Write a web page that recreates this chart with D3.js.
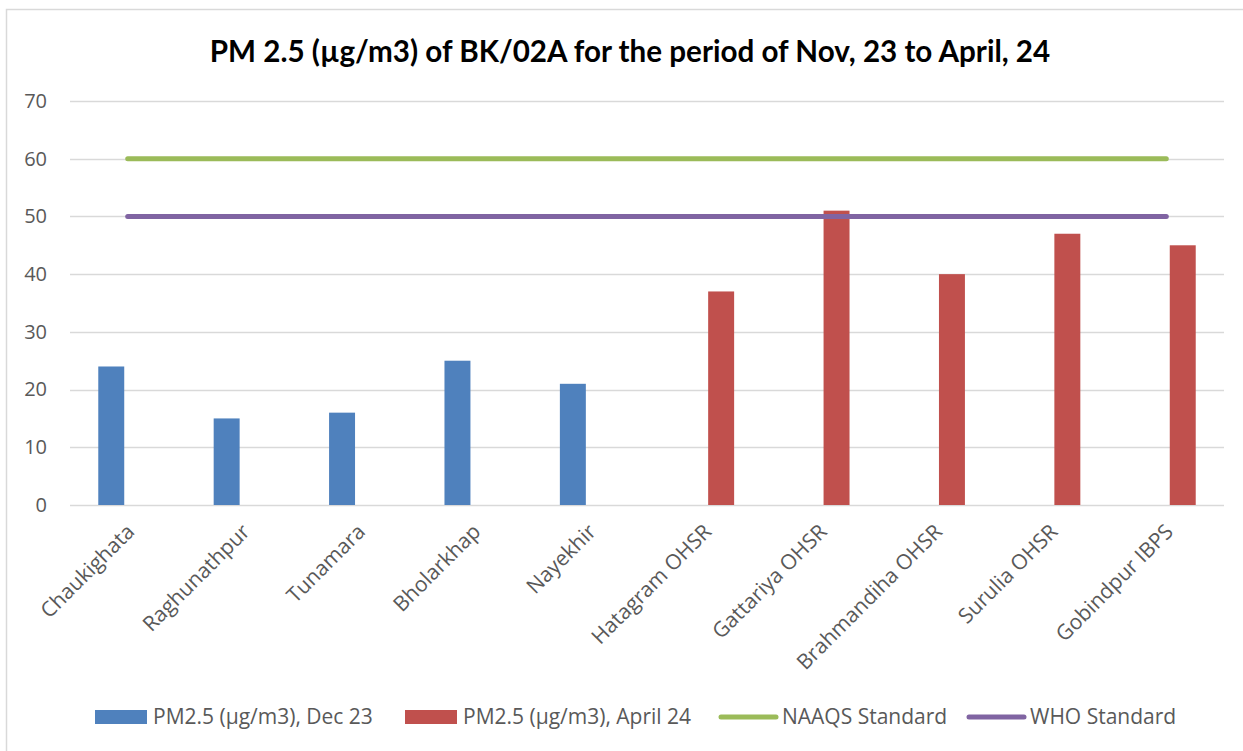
<!DOCTYPE html>
<html>
<head>
<meta charset="utf-8">
<script src="https://cdn.jsdelivr.net/npm/d3@7"></script>
<style>
  html, body { margin: 0; padding: 0; background: #fff; }
  svg { display: block; }
</style>
</head>
<body>
<svg id="chart" width="1243" height="751"></svg>
<script>
const categories = ["Chaukighata", "Raghunathpur", "Tunamara", "Bholarkhap", "Nayekhir",
  "Hatagram OHSR", "Gattariya OHSR", "Brahmandiha OHSR", "Surulia OHSR", "Gobindpur IBPS"];
const dec23 = [24, 15, 16, 25, 21, null, null, null, null, null];
const apr24 = [null, null, null, null, null, 37, 51, 40, 47, 45];
const naaqs = [60, 60, 60, 60, 60, 60, 60, 60, 60, 60];
const who = [50, 50, 50, 50, 50, 50, 50, 50, 50, 50];
const yTicks = [0, 10, 20, 30, 40, 50, 60, 70];
const seriesNames = ["PM2.5 (µg/m3), Dec 23", "PM2.5 (µg/m3), April 24", "NAAQS Standard", "WHO Standard"];
const title = "PM 2.5 (µg/m3) of BK/02A for the period of Nov, 23 to April, 24";

const colors = { dec: "#4F81BD", apr: "#C0504D", naaqs: "#9BBB59", who: "#8064A2" };
const font = "'Open Sans', sans-serif";

const svg = d3.select("#chart");

// outer border
svg.append("rect").attr("x", 6.5).attr("y", 9.5).attr("width", 1300).attr("height", 800)
  .attr("fill", "#fff").attr("stroke", "#d9d9d9").attr("stroke-width", 1.5);

const plot = { left: 70, right: 1224, top: 101, bottom: 505 };

const x = d3.scaleBand().domain(categories).range([plot.left, plot.right]).paddingInner(0).paddingOuter(0);
const y = d3.scaleLinear().domain([0, 70]).range([plot.bottom, plot.top]);

const bw = x.bandwidth();
const barW = bw * 0.225;
const gap = bw * 0.03;

// gridlines
svg.append("g").selectAll("line").data(yTicks).join("line")
  .attr("x1", plot.left).attr("x2", plot.right)
  .attr("y1", d => Math.round(y(d)) + 0.5).attr("y2", d => Math.round(y(d)) + 0.5)
  .attr("stroke", "#d9d9d9").attr("stroke-width", 1.5);

// y axis
const yAxis = svg.append("g").attr("transform", `translate(${plot.left},0)`)
  .call(d3.axisLeft(y).tickValues(yTicks).tickSize(0).tickPadding(23));
yAxis.select(".domain").remove();
yAxis.selectAll("text").attr("font-family", font).attr("font-size", 20).attr("fill", "#595959");

// bars
const cx = c => x(c) + bw / 2;
svg.append("g").selectAll("rect").data(categories.map((c, i) => ({ c, v: dec23[i] })).filter(d => d.v != null))
  .join("rect")
  .attr("x", d => cx(d.c) - gap - barW).attr("width", barW)
  .attr("y", d => y(d.v)).attr("height", d => y(0) - y(d.v))
  .attr("fill", colors.dec);
svg.append("g").selectAll("rect").data(categories.map((c, i) => ({ c, v: apr24[i] })).filter(d => d.v != null))
  .join("rect")
  .attr("x", d => cx(d.c) + gap).attr("width", barW)
  .attr("y", d => y(d.v)).attr("height", d => y(0) - y(d.v))
  .attr("fill", colors.apr);

// lines
const line = d3.line().x((d, i) => cx(categories[i])).y(d => y(d));
svg.append("path").datum(naaqs).attr("d", line).attr("fill", "none")
  .attr("stroke", colors.naaqs).attr("stroke-width", 5).attr("stroke-linecap", "round");
svg.append("path").datum(who).attr("d", line).attr("fill", "none")
  .attr("stroke", colors.who).attr("stroke-width", 5).attr("stroke-linecap", "round");

// x labels
svg.append("g").selectAll("text").data(categories).join("text")
  .attr("transform", d => `translate(${cx(d) + 8},${plot.bottom + 28}) rotate(-45)`)
  .attr("text-anchor", "end")
  .attr("font-family", font).attr("font-size", 21).attr("fill", "#595959")
  .text(d => d);

// title
svg.append("text").attr("x", 630).attr("y", 62).attr("text-anchor", "middle")
  .attr("font-family", "Lato, 'Open Sans', sans-serif").attr("font-weight", "bold")
  .attr("font-size", 29.6).attr("fill", "#000").text(title);

// legend
const leg = svg.append("g").attr("font-family", font).attr("font-size", 21).attr("fill", "#595959");
const legItems = [
  { name: seriesNames[0], type: "rect", color: colors.dec, x: 95 },
  { name: seriesNames[1], type: "rect", color: colors.apr, x: 405 },
  { name: seriesNames[2], type: "line", color: colors.naaqs, x: 721 },
  { name: seriesNames[3], type: "line", color: colors.who, x: 969 }
];
const ly = 717;
legItems.forEach(it => {
  if (it.type === "rect") {
    leg.append("rect").attr("x", it.x).attr("y", ly - 7).attr("width", 52).attr("height", 14).attr("fill", it.color);
    leg.append("text").attr("x", it.x + 58).attr("y", ly).attr("dy", "0.35em").text(it.name);
  } else {
    leg.append("line").attr("x1", it.x).attr("x2", it.x + 55).attr("y1", ly).attr("y2", ly)
      .attr("stroke", it.color).attr("stroke-width", 5).attr("stroke-linecap", "round");
    leg.append("text").attr("x", it.x + 61).attr("y", ly).attr("dy", "0.35em").text(it.name);
  }
});
</script>
</body>
</html>
